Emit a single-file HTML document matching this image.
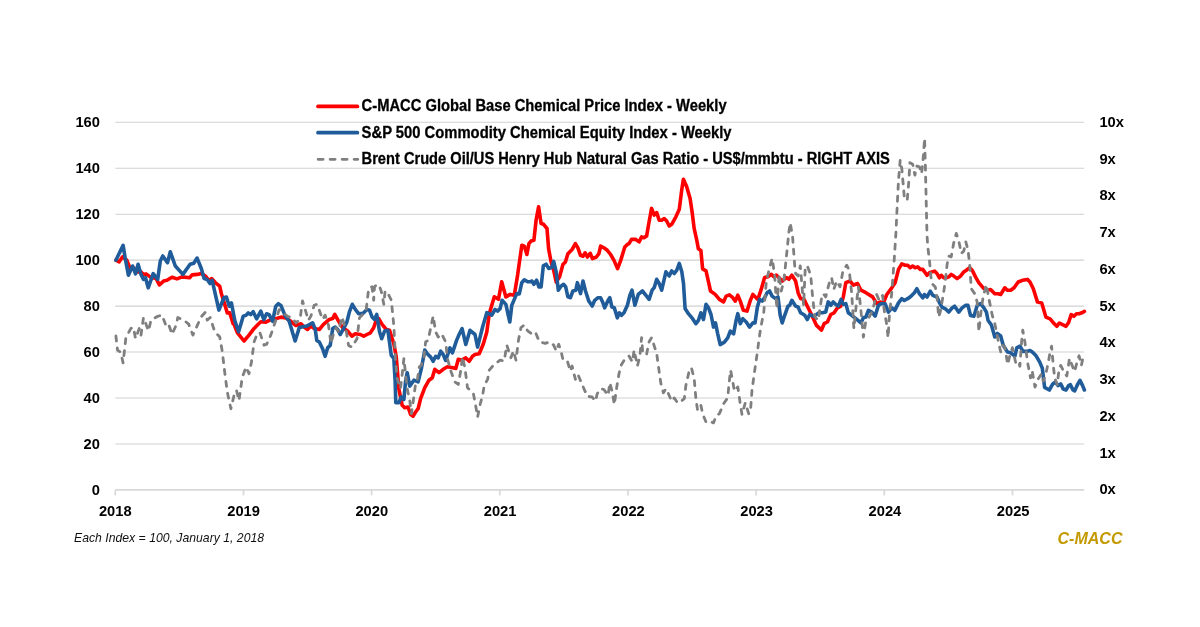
<!DOCTYPE html>
<html lang="en">
<head>
<meta charset="utf-8">
<title>C-MACC Global Base Chemical Price Index</title>
<style>
html,body{margin:0;padding:0;background:#fff;}
body{width:1200px;height:627px;overflow:hidden;}
svg{display:block;filter:blur(0.45px);}
text{font-family:'Liberation Sans', Arial, sans-serif;}
.ax{font-size:14.7px;font-weight:bold;fill:#000;}
.lg{font-size:15.8px;font-weight:bold;fill:#000;stroke:#000;stroke-width:0.3px;}
</style>
</head>
<body>
<svg width="1200" height="627" viewBox="0 0 1200 627">
<rect width="1200" height="627" fill="#ffffff"/>
<g stroke="#d1d1d1" stroke-width="1.05" fill="none">
<line x1="115.3" y1="122.3" x2="1084.2" y2="122.3"/>
<line x1="115.3" y1="168.2" x2="1084.2" y2="168.2"/>
<line x1="115.3" y1="214.2" x2="1084.2" y2="214.2"/>
<line x1="115.3" y1="260.1" x2="1084.2" y2="260.1"/>
<line x1="115.3" y1="306.1" x2="1084.2" y2="306.1"/>
<line x1="115.3" y1="352.0" x2="1084.2" y2="352.0"/>
<line x1="115.3" y1="398.0" x2="1084.2" y2="398.0"/>
<line x1="115.3" y1="443.9" x2="1084.2" y2="443.9"/>
</g>
<g stroke="#d8d8d8" stroke-width="1.7" fill="none">
<line x1="115.3" y1="489.9" x2="1084.2" y2="489.9"/>
<line x1="115.3" y1="489.9" x2="115.3" y2="495.4"/>
<line x1="243.5" y1="489.9" x2="243.5" y2="495.4"/>
<line x1="371.6" y1="489.9" x2="371.6" y2="495.4"/>
<line x1="499.8" y1="489.9" x2="499.8" y2="495.4"/>
<line x1="628.0" y1="489.9" x2="628.0" y2="495.4"/>
<line x1="756.1" y1="489.9" x2="756.1" y2="495.4"/>
<line x1="884.3" y1="489.9" x2="884.3" y2="495.4"/>
<line x1="1012.5" y1="489.9" x2="1012.5" y2="495.4"/>
</g>
<g class="ax" text-anchor="end">
<text x="99.9" y="126.9">160</text>
<text x="99.9" y="172.8">140</text>
<text x="99.9" y="218.8">120</text>
<text x="99.9" y="264.8">100</text>
<text x="99.9" y="310.7">80</text>
<text x="99.9" y="356.6">60</text>
<text x="99.9" y="402.6">40</text>
<text x="99.9" y="448.6">20</text>
<text x="99.9" y="494.5">0</text>
</g>
<g class="ax" text-anchor="start">
<text x="1099.4" y="126.7">10x</text>
<text x="1099.4" y="163.5">9x</text>
<text x="1099.4" y="200.2">8x</text>
<text x="1099.4" y="237.0">7x</text>
<text x="1099.4" y="273.7">6x</text>
<text x="1099.4" y="310.5">5x</text>
<text x="1099.4" y="347.3">4x</text>
<text x="1099.4" y="384.0">3x</text>
<text x="1099.4" y="420.8">2x</text>
<text x="1099.4" y="457.5">1x</text>
<text x="1099.4" y="494.3">0x</text>
</g>
<g class="ax" text-anchor="middle">
<text x="115.3" y="515.9">2018</text>
<text x="243.6" y="515.9">2019</text>
<text x="371.8" y="515.9">2020</text>
<text x="500.1" y="515.9">2021</text>
<text x="628.4" y="515.9">2022</text>
<text x="756.6" y="515.9">2023</text>
<text x="884.9" y="515.9">2024</text>
<text x="1013.2" y="515.9">2025</text>
</g>
<polyline fill="none" stroke="#ff0000" stroke-width="3.6" stroke-linecap="round" stroke-linejoin="round" points="115.9,260.2 119.2,261.8 122.6,256.8 126.8,260.2 130.1,268.5 133.5,267.7 136.8,271.9 141.0,271.9 143.5,274.4 146.0,273.9 150.2,276.9 156.1,278.6 159.4,284.9 163.6,281.1 167.0,280.3 172.0,277.2 177.0,278.9 182.0,276.9 189.6,277.7 192.1,274.9 197.1,274.4 201.3,273.6 205.5,276.1 208.8,280.3 211.8,278.6 215.5,282.8 219.7,286.1 221.4,293.7 225.6,307.1 227.3,312.9 229.8,312.9 233.1,323.8 234.0,324.2 237.3,332.6 244.0,341.0 249.0,335.1 254.1,328.4 258.2,324.2 260.8,321.8 265.8,322.1 270.8,319.6 275.8,318.8 280.9,317.1 285.9,317.9 290.9,321.3 295.9,325.5 301.0,323.8 304.2,327.0 307.5,329.5 310.9,326.1 314.2,328.6 319.3,329.5 323.5,324.4 329.3,319.4 332.7,318.6 334.8,314.4 338.5,321.1 342.7,327.8 347.7,331.1 351.9,336.2 355.3,333.7 360.3,334.5 363.7,336.2 367.0,334.5 370.4,332.8 373.7,327.8 376.2,320.3 378.7,318.6 382.1,324.4 386.3,329.5 389.6,330.3 393.8,343.7 396.3,357.1 398.8,388.6 402.2,405.3 404.7,407.8 408.0,407.0 410.6,414.5 413.1,416.2 415.6,412.0 418.1,408.7 420.6,398.6 424.8,387.7 429.0,380.2 432.3,377.7 434.8,369.3 439.0,372.7 443.2,369.3 447.4,366.8 451.6,367.6 455.8,368.5 458.3,359.3 461.6,360.1 465.8,357.9 469.2,361.3 472.5,356.3 475.0,354.6 479.2,353.8 483.4,343.7 486.8,332.0 489.3,313.6 494.3,296.8 498.5,299.3 501.7,281.8 505.9,296.9 510.1,294.4 514.3,295.2 517.6,275.1 520.2,256.7 521.8,245.3 524.3,246.1 526.9,254.5 528.9,243.6 531.0,241.1 533.9,240.3 536.1,220.2 538.6,206.8 541.1,223.5 543.6,224.3 547.0,228.5 548.6,248.6 551.1,262.0 553.7,270.4 556.2,282.1 559.5,277.1 562.9,264.5 565.4,262.0 567.9,253.7 572.1,249.5 575.4,243.6 577.9,247.8 580.5,255.3 583.0,256.2 585.1,252.8 587.5,257.0 590.2,253.3 592.5,258.7 596.4,257.0 598.9,253.7 600.6,246.1 603.9,247.8 607.3,250.3 610.6,254.5 614.0,260.4 617.6,268.7 620.7,260.4 624.8,247.0 627.4,244.4 629.0,243.6 631.5,239.4 635.7,239.4 639.1,241.9 641.6,236.9 644.1,237.7 646.6,236.1 649.1,221.8 651.6,208.4 654.2,215.1 656.7,212.6 659.2,220.2 661.7,220.2 664.2,218.5 666.7,221.0 669.2,226.0 671.7,224.3 675.9,216.8 679.3,209.3 681.7,190.1 683.4,179.2 686.7,186.8 690.1,198.5 692.1,211.9 694.2,228.7 696.8,240.4 698.4,248.8 700.9,250.4 702.6,268.9 706.0,270.9 708.5,281.8 710.5,291.0 715.2,294.4 719.4,299.4 723.6,301.9 726.1,296.1 729.4,294.9 732.8,297.7 735.3,301.1 737.8,295.2 740.3,301.1 743.3,310.3 747.0,311.1 750.4,300.3 752.9,294.4 755.4,296.9 757.9,299.4 761.2,289.4 764.6,277.6 767.9,276.8 771.3,274.3 773.8,276.8 776.3,275.1 778.8,277.6 782.2,281.0 786.4,277.6 788.9,279.3 791.9,275.1 795.6,281.0 798.1,292.7 800.6,298.6 804.0,299.4 808.1,307.8 812.3,316.2 816.5,325.4 821.5,330.1 824.1,323.7 827.4,322.0 830.8,314.5 834.1,312.8 837.5,307.8 840.8,306.1 843.3,296.9 845.8,282.7 850.0,281.0 853.4,285.2 857.6,283.5 860.9,290.2 865.9,292.7 872.6,296.9 876.8,303.6 880.1,302.1 883.4,302.9 886.8,294.5 891.8,287.8 895.1,282.8 898.5,269.4 901.8,263.9 905.2,265.2 907.7,265.2 910.2,267.7 912.7,266.0 915.2,267.7 917.7,266.9 920.3,269.4 922.8,269.4 927.0,275.3 929.5,272.7 932.0,271.9 934.5,271.1 937.0,273.6 939.5,277.8 941.2,275.3 943.7,277.8 946.2,277.8 948.7,276.9 951.2,274.4 953.8,276.1 957.1,278.6 960.5,276.1 963.8,271.9 966.3,270.2 969.7,267.7 972.2,270.2 975.5,276.9 978.9,282.8 983.9,288.7 987.3,290.3 990.6,289.5 994.8,293.7 998.1,293.7 1000.7,294.5 1004.8,287.8 1007.4,290.3 1010.7,290.3 1014.1,287.8 1018.2,282.0 1022.4,280.3 1027.5,279.4 1030.0,282.0 1033.3,288.7 1037.5,302.1 1041.7,302.9 1045.9,317.1 1050.1,318.8 1054.3,323.8 1056.8,326.3 1059.3,323.0 1062.6,324.7 1066.0,326.3 1068.6,322.5 1071.2,314.6 1073.9,316.3 1076.5,313.7 1079.1,313.7 1081.8,312.8 1084.4,311.4"/>
<polyline fill="none" stroke="#1f5c99" stroke-width="3.6" stroke-linecap="round" stroke-linejoin="round" points="115.9,260.2 123.1,245.4 125.1,257.6 128.4,275.2 132.6,266.0 135.5,273.9 138.1,264.3 141.0,274.4 143.5,279.4 145.5,277.7 148.2,287.8 153.2,273.6 157.7,279.4 160.3,261.0 162.8,256.0 167.5,262.7 170.3,251.8 175.3,266.0 182.9,274.4 190.1,264.3 193.8,263.2 197.1,258.1 201.3,268.5 204.1,278.6 207.2,279.4 210.0,283.6 212.2,280.3 218.9,310.1 223.9,297.8 226.4,297.0 229.3,306.2 231.4,302.9 234.8,320.5 238.6,331.8 243.2,316.3 245.7,315.4 248.2,312.9 250.7,314.6 253.2,311.7 256.6,318.8 260.8,311.2 263.8,319.6 266.6,313.8 269.1,314.6 272.5,321.3 275.8,306.2 278.3,303.7 280.9,305.4 285.0,315.4 289.2,321.3 295.1,341.0 299.3,327.6 306.7,326.1 312.6,322.8 315.1,328.6 316.8,340.4 319.3,342.0 322.6,348.7 325.1,356.3 327.6,347.9 330.2,345.4 332.7,328.6 335.2,327.0 337.7,329.5 340.2,334.5 343.6,328.6 346.9,321.9 349.4,311.9 352.3,304.3 355.3,309.4 358.6,313.6 362.8,313.6 367.0,309.4 369.5,310.2 372.0,316.9 374.5,319.4 376.7,314.4 379.6,332.0 381.7,338.7 384.6,331.1 387.9,330.3 391.3,355.4 393.8,358.4 395.1,380.2 395.8,402.8 398.8,402.8 401.3,397.0 403.9,399.5 405.5,381.9 407.2,372.7 409.7,386.1 413.9,380.2 418.1,381.9 421.4,368.5 424.8,350.1 427.3,353.8 430.7,357.1 433.2,361.3 435.7,356.3 438.2,357.9 440.7,351.2 443.2,354.6 445.7,360.5 449.9,347.9 452.4,352.9 456.6,340.4 459.1,334.5 462.1,328.6 465.8,344.5 470.0,330.3 475.0,334.5 477.6,347.1 482.6,327.0 486.8,312.7 491.8,315.2 495.0,309.5 497.5,311.1 500.1,308.6 502.1,300.3 505.9,304.4 508.1,314.5 509.8,322.0 511.8,305.3 514.3,299.4 516.8,293.6 519.3,293.9 521.8,282.7 524.3,279.8 527.7,281.8 530.2,281.8 531.9,281.0 533.9,284.3 536.6,280.2 538.9,286.9 541.1,286.9 543.3,265.9 546.1,264.2 548.6,268.4 551.6,267.6 553.7,261.4 556.2,271.8 558.3,290.2 561.2,286.0 563.7,284.3 565.7,286.9 567.9,296.9 570.4,297.7 572.9,291.0 575.8,290.2 577.4,282.7 580.5,293.6 583.0,281.0 585.5,291.0 588.8,301.1 592.2,306.1 594.7,300.3 598.0,297.7 600.6,297.7 602.6,301.9 604.7,307.8 608.1,300.3 609.8,297.7 611.9,307.0 614.3,307.8 617.3,317.8 619.3,312.8 621.5,315.3 624.0,312.8 627.4,305.3 629.9,295.2 632.0,290.2 634.9,305.3 638.2,294.4 642.4,291.0 645.8,295.2 649.1,299.4 652.1,290.2 654.2,287.7 656.7,279.3 659.2,283.5 661.7,290.2 665.9,271.8 669.2,276.0 671.7,270.9 674.3,273.5 676.8,270.1 679.3,263.4 681.8,271.8 683.5,283.5 685.1,308.6 688.4,313.7 692.6,318.7 695.9,323.7 698.4,320.4 700.9,312.8 703.5,319.5 706.0,304.4 708.5,307.8 711.0,314.5 713.5,327.1 715.5,322.9 717.7,333.8 720.2,344.6 724.4,342.1 727.7,337.9 730.3,331.2 733.6,333.8 736.1,320.4 737.8,313.7 740.3,323.7 742.8,318.7 746.2,322.0 749.5,327.1 752.9,322.9 755.0,322.9 757.4,307.0 759.6,299.4 762.1,301.1 764.6,297.7 767.1,292.7 769.6,291.0 772.1,296.1 775.5,298.6 778.0,296.9 780.2,315.3 782.2,322.9 784.7,315.3 788.0,306.1 789.7,305.3 791.9,300.3 795.6,306.1 798.1,307.0 800.6,312.8 804.8,315.3 807.3,319.5 809.8,314.5 813.2,316.2 816.5,314.5 819.0,312.8 822.4,312.8 825.7,312.0 828.2,301.9 830.8,305.3 833.3,301.9 835.8,304.4 838.3,306.1 841.1,299.4 843.3,304.4 845.8,303.6 848.3,312.8 851.7,315.3 855.9,318.7 860.9,322.9 863.4,317.8 865.9,317.0 868.4,310.3 871.8,312.0 875.1,316.2 878.4,305.4 880.9,303.7 885.1,303.7 888.4,312.1 891.8,307.9 894.8,310.4 898.5,302.9 901.8,298.7 904.3,300.4 907.7,298.7 911.0,296.2 914.4,292.8 916.9,288.7 919.4,293.7 922.8,297.9 924.4,294.5 927.0,297.0 930.3,291.2 932.8,295.4 937.0,297.0 939.5,302.9 942.0,307.1 945.4,308.8 948.7,312.1 952.1,307.9 954.6,306.2 958.8,312.1 962.1,307.9 965.5,305.4 968.0,305.4 970.5,315.5 973.9,316.3 977.2,305.4 980.6,303.7 983.9,307.9 986.4,312.1 988.1,320.5 990.6,323.8 991.4,325.1 994.8,336.9 997.3,333.5 1000.7,336.0 1003.2,345.2 1007.4,351.9 1010.7,352.8 1014.9,356.1 1016.8,347.9 1020.0,346.1 1023.0,351.4 1026.5,351.4 1030.0,350.5 1032.6,352.3 1036.1,355.8 1039.6,361.9 1042.3,368.1 1044.6,387.4 1049.3,390.0 1052.8,383.9 1055.4,382.1 1058.1,385.6 1060.7,383.9 1063.3,389.1 1066.0,390.0 1068.6,385.6 1070.4,384.7 1073.0,390.0 1074.7,390.9 1077.4,384.7 1080.0,380.4 1082.6,385.6 1084.4,390.0"/>
<polyline fill="none" stroke="#7f7f7f" stroke-width="2.8" stroke-dasharray="5 7" stroke-linecap="round" stroke-linejoin="round" points="115.9,336.0 117.5,350.2 120.1,351.9 120.9,353.6 123.1,362.8 125.9,337.6 130.9,328.4 133.5,327.6 135.5,338.5 139.3,328.4 141.0,335.1 143.5,317.5 148.5,330.9 151.0,320.1 156.9,316.7 161.9,315.0 166.1,325.9 168.6,324.2 172.0,334.3 176.2,325.1 177.8,317.5 183.7,320.1 188.7,324.2 192.9,335.1 197.1,325.9 201.3,316.7 205.1,312.5 207.2,320.1 210.2,317.5 214.7,331.8 219.7,336.8 222.2,351.0 224.7,372.0 227.3,392.1 230.9,408.8 234.8,392.1 236.5,390.4 239.0,400.5 242.3,377.0 244.0,372.8 246.0,367.0 249.0,373.7 251.5,361.9 254.1,341.8 257.4,333.5 259.9,332.6 264.1,345.2 266.6,344.3 270.8,335.1 275.8,320.1 279.2,309.6 284.2,313.8 287.6,316.3 292.6,317.9 295.9,323.0 300.1,318.8 302.5,301.0 305.9,311.9 308.4,320.3 310.9,316.1 314.2,305.2 316.8,304.3 319.3,310.2 322.6,319.4 325.1,315.2 328.5,325.3 331.0,343.7 333.5,333.7 336.0,327.8 338.5,332.0 341.9,316.9 346.1,330.3 348.6,345.4 351.9,347.1 357.0,338.7 359.5,317.7 362.0,315.2 366.2,309.4 368.7,288.4 372.0,286.8 373.7,300.2 374.5,286.8 377.1,284.2 379.6,286.8 381.2,290.9 383.8,304.3 385.1,290.9 387.9,293.5 391.3,300.2 393.8,325.3 394.6,340.4 395.5,360.1 397.2,378.5 400.5,388.6 402.5,371.8 403.9,358.4 405.5,373.5 407.2,388.6 409.7,400.3 411.4,413.7 413.6,398.6 415.6,383.6 417.3,380.2 419.3,366.8 421.4,365.1 424.0,356.8 425.6,342.0 428.1,340.4 430.7,327.8 433.2,316.1 435.7,332.0 438.2,337.0 441.5,333.7 445.7,342.0 447.4,358.4 450.8,371.0 454.9,381.9 458.3,384.4 460.8,370.2 462.5,356.8 465.0,368.5 467.5,387.7 473.4,393.6 475.9,407.0 477.6,417.1 480.1,404.5 482.6,395.3 484.3,385.2 487.6,379.4 489.3,370.2 493.5,365.1 500.1,360.2 504.2,361.0 506.8,345.1 510.9,357.7 513.5,351.0 516.0,360.2 518.5,340.1 521.0,327.5 524.3,325.0 527.7,330.9 531.0,333.4 535.2,331.7 539.4,341.8 545.3,343.4 549.5,341.8 553.7,345.1 556.2,351.0 558.7,344.3 561.2,351.8 562.9,359.3 567.1,360.2 570.4,371.1 572.1,366.0 575.4,379.4 577.9,374.4 582.1,384.5 587.2,396.2 592.2,397.0 595.5,401.2 597.2,393.7 600.6,388.7 603.9,389.5 608.1,395.4 609.8,382.8 612.3,392.0 614.3,404.6 616.5,388.7 619.0,373.6 621.5,364.4 624.8,359.3 629.0,356.0 632.4,361.9 634.1,350.1 637.4,366.0 639.9,356.0 641.6,337.6 642.8,353.5 646.6,354.3 649.1,341.8 651.6,337.6 654.2,345.9 656.7,353.5 659.2,371.9 660.9,383.6 663.4,392.8 665.9,388.7 668.4,393.7 671.7,401.2 674.3,397.9 677.6,402.9 681.0,401.2 684.3,398.7 685.9,385.3 689.2,371.0 691.4,367.7 694.2,378.6 695.9,398.7 697.6,410.4 700.9,405.4 702.6,413.7 706.0,422.1 710.2,421.3 713.5,422.9 716.0,416.2 719.4,413.7 723.6,403.7 727.7,397.8 729.4,380.2 730.6,370.2 732.8,381.9 734.4,391.1 737.8,386.9 740.0,402.0 742.0,414.6 745.3,402.8 748.7,413.7 750.4,412.1 752.0,390.3 754.5,371.9 757.4,351.8 759.6,335.0 761.2,325.4 763.8,312.0 766.3,281.8 768.8,270.9 772.1,258.4 774.6,274.3 776.8,308.6 779.2,274.3 781.3,291.0 783.9,280.2 786.4,256.7 787.2,248.8 788.9,232.0 790.2,222.8 792.6,237.0 794.7,265.5 795.6,273.5 798.1,276.0 800.3,265.9 803.6,305.3 805.3,266.8 807.3,265.9 810.7,275.1 812.3,293.6 814.8,317.0 818.2,320.4 821.5,298.6 823.2,293.6 825.7,296.9 829.1,283.5 831.6,277.6 833.8,289.4 836.6,281.0 840.0,286.9 842.8,271.8 846.7,265.1 849.2,270.1 851.7,293.6 853.9,328.7 856.2,305.3 858.4,286.9 860.9,310.3 863.4,337.1 865.9,320.4 869.3,317.0 872.6,310.3 873.4,307.1 876.7,294.5 879.2,300.4 882.6,295.4 884.2,310.1 886.8,325.1 888.1,337.7 889.3,316.8 891.8,292.0 894.3,258.5 896.0,231.7 896.8,213.8 898.5,180.3 900.2,160.2 901.8,168.5 904.3,197.0 907.2,200.4 908.9,180.3 909.9,162.7 912.7,164.3 914.9,175.2 916.9,166.0 919.4,166.9 921.6,173.6 923.3,156.8 924.6,138.4 925.3,163.5 926.1,197.0 927.0,235.0 927.8,246.8 929.5,261.0 931.1,278.6 932.8,284.5 935.3,287.0 937.0,297.0 938.7,317.1 940.4,311.3 942.0,302.1 943.7,292.0 945.4,280.3 947.1,264.4 948.7,256.0 951.2,256.8 953.8,242.6 956.3,233.4 958.8,240.9 961.3,253.5 963.8,251.0 965.8,241.8 968.0,250.1 969.7,264.4 971.3,288.7 974.7,293.7 977.2,302.1 978.9,331.8 980.6,315.1 982.2,303.4 983.1,297.0 986.4,284.5 988.9,298.7 992.3,315.5 994.8,323.5 998.1,340.2 1000.7,351.9 1002.3,345.2 1004.8,346.9 1007.7,364.5 1009.9,355.3 1012.4,347.7 1015.7,362.8 1018.2,361.1 1019.9,366.2 1021.6,341.9 1022.8,330.2 1024.9,341.9 1027.5,362.0 1030.5,377.9 1032.1,370.4 1035.0,387.1 1038.3,378.7 1041.7,373.7 1043.2,381.2 1045.8,374.2 1048.4,361.9 1050.2,351.4 1051.6,346.1 1052.8,360.2 1054.6,377.7 1057.2,384.7 1058.9,370.7 1060.7,365.4 1064.2,372.5 1066.8,376.0 1069.5,358.4 1072.1,365.4 1074.7,371.6 1077.4,360.2 1079.1,355.8 1081.4,365.4 1083.5,354.9"/>
<g fill="none" stroke-linecap="round">
<line x1="318" y1="106.4" x2="357.4" y2="106.4" stroke="#ff0000" stroke-width="3.7"/>
<line x1="318" y1="132.7" x2="357.4" y2="132.7" stroke="#1f5c99" stroke-width="3.7"/>
<line x1="318.1" y1="159.3" x2="357.8" y2="159.3" stroke="#7f7f7f" stroke-width="2.8" stroke-dasharray="5 7"/>
</g>
<g class="lg">
<text x="361.6" y="111.3" textLength="365" lengthAdjust="spacingAndGlyphs">C-MACC Global Base Chemical Price Index - Weekly</text>
<text x="361.6" y="137.8" textLength="370" lengthAdjust="spacingAndGlyphs">S&amp;P 500 Commodity Chemical Equity Index - Weekly</text>
<text x="361.6" y="164.4" textLength="528.3" lengthAdjust="spacingAndGlyphs">Brent Crude Oil/US Henry Hub Natural Gas Ratio - US$/mmbtu - RIGHT AXIS</text>
</g>
<text x="74" y="542.2" font-size="12.2" font-style="italic" fill="#111" textLength="190" lengthAdjust="spacing">Each Index = 100, January 1, 2018</text>
<text x="1057.5" y="543.6" font-size="16.5" font-style="italic" font-weight="bold" fill="#c49a00" textLength="65" lengthAdjust="spacingAndGlyphs">C-MACC</text>
</svg>
</body>
</html>
